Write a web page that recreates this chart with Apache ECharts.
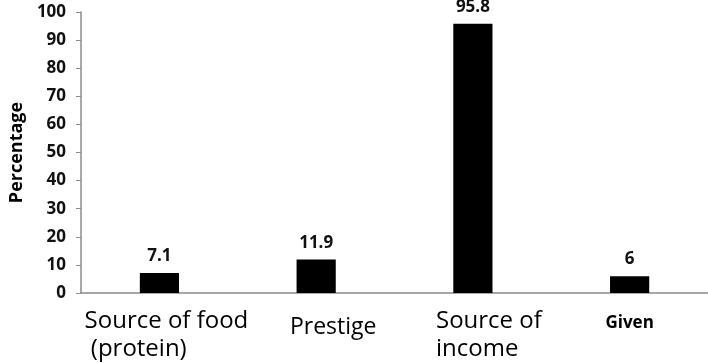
<!DOCTYPE html>
<html>
<head>
<meta charset="utf-8">
<script src="https://cdn.jsdelivr.net/npm/echarts@6/dist/echarts.min.js"></script>
<style>
  html,body{margin:0;padding:0;background:#fff;}
  #chart{width:708px;height:363px;}
</style>
</head>
<body>
<div id="chart"></div>
<script>
// values
const categories = ['Source of food\n (protein)', 'Prestige', 'Source of\nincome', 'Given'];
const percentages = [7.1, 11.9, 95.8, 6];
const yTicks = [0, 10, 20, 30, 40, 50, 60, 70, 80, 90, 100];

// per-label look (the original has uneven label sizes / offsets)
const labelStyle = {
  'Source of food\n (protein)': { padding: [0, 0, 0, 14] },
  'Prestige': { fontSize: 23, padding: [6, 0, 0, 34] },
  'Source of\nincome': { padding: [0, 0, 0, 32] },
  'Given': { fontSize: 17, fontWeight: 'bold', padding: [2, 0, 0, 0] }
};

const chart = echarts.init(document.getElementById('chart'));
const font = '"Open Sans", sans-serif';

chart.setOption({
  animation: false,
  grid: { left: 78, right: 0, top: 12, bottom: 67 },
  xAxis: {
    type: 'category',
    data: categories.map(c => ({ value: c, textStyle: labelStyle[c] || {} })),
    axisLine: { lineStyle: { color: '#8c8c8c', width: 1.5 } },
    axisTick: { show: false },
    axisLabel: {
      interval: 0,
      color: '#000',
      fontFamily: font,
      fontSize: 24,
      lineHeight: 28,
      margin: 14,
      formatter: v => v.indexOf('\n') < 0 ? v : v.split('\n').map(s => '{l|' + s + '}').join('\n'),
      rich: {
        l: { align: 'left', color: '#000', fontFamily: font, fontSize: 24, lineHeight: 28 }
      }
    }
  },
  yAxis: {
    type: 'value',
    min: yTicks[0],
    max: yTicks[yTicks.length - 1],
    interval: 10,
    name: 'Percentage',
    nameLocation: 'middle',
    nameGap: 54,
    nameTextStyle: { color: '#000', fontFamily: font, fontSize: 18, fontWeight: 'bold' },
    splitLine: { show: false },
    axisLine: { show: true, lineStyle: { color: '#8c8c8c', width: 1.5 } },
    axisTick: { show: true, length: 5, lineStyle: { color: '#8c8c8c' } },
    axisLabel: { color: '#111', fontFamily: font, fontSize: 17, fontWeight: 'bold', margin: 15 }
  },
  series: [{
    type: 'bar',
    data: percentages,
    barWidth: '25%',
    itemStyle: { color: '#000' },
    label: {
      show: true,
      position: 'top',
      distance: 8,
      color: '#111',
      fontFamily: font,
      fontSize: 17,
      fontWeight: 'bold'
    }
  }]
});
</script>
</body>
</html>
